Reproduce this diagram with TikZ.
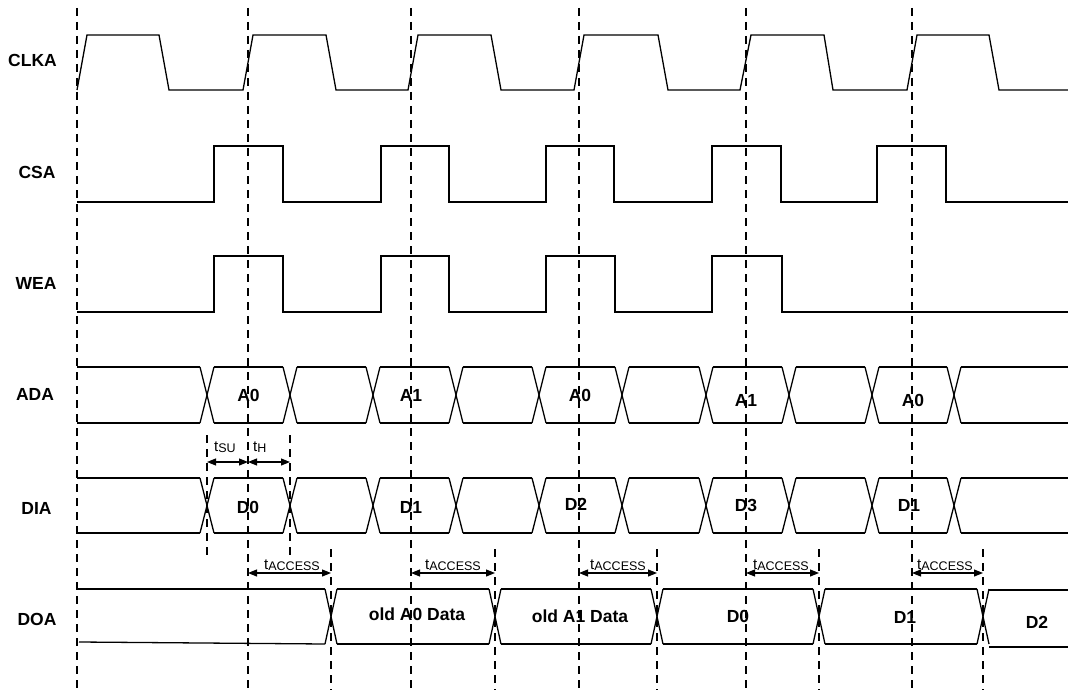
\documentclass[tikz,border=0pt]{standalone}
\usepackage{fontspec}
\setmainfont{Liberation Sans}
\usetikzlibrary{arrows.meta}
\tikzset{
  sig/.style={line width=1.3pt, black},
  grid/.style={line width=1.1pt, dash pattern=on 8pt off 6pt},
  lbl/.style={font=\bfseries\fontsize{17.5}{17.5}\selectfont, inner sep=0pt},
  tlbl/.style={font=\fontsize{15}{15}\selectfont, inner sep=0pt, anchor=base west},
  dim/.style={line width=1.1pt, {Triangle[length=9pt,width=7pt]}-{Triangle[length=9pt,width=7pt]}}
}
\newcommand{\subt}[1]{t{\fontsize{12.5}{12.5}\selectfont\raisebox{-1.5pt}{#1}}}
\begin{document}
\begin{tikzpicture}[x=1pt,y=-1pt]
\useasboundingbox (0,0) rectangle (1068,690);
% main dashed grid lines
\foreach \x in {77,248,411,579,746,912} \draw[grid] (\x,8) -- (\x,690);
% tSU / tH dashed lines
\foreach \x in {207,290} \draw[grid] (\x,435) -- (\x,556);
% tACCESS dashed lines
\foreach \x in {331,495,657,819,983} \draw[grid] (\x,549) -- (\x,690);

% signal labels
\node[lbl] (lclk) at (32.5,60) {CLKA};
\node[lbl] (lcsa) at (37,172) {CSA};
\node[lbl] (lwea) at (36,283) {WEA};
\node[lbl] (lada) at (35,394) {ADA};
\node[lbl] (ldia) at (36.5,508) {DIA};
\node[lbl] (ldoa) at (37,619) {DOA};

% CLKA
\draw[sig] (77,90)--(87,35)--(159,35)--(169,90)--(243,90)--(253,35)--(326,35)--(336,90)--(408,90)--(418,35)--(491,35)--(501,90)--(574,90)--(584,35)--(658,35)--(668,90)--(740,90)--(751,35)--(824,35)--(833,90)--(907,90)--(917,35)--(989,35)--(999,90)--(1068,90);
% CSA
\draw[sig] (77,202)--(214,202)--(214,146)--(283,146)--(283,202)--(381,202)--(381,146)--(449,146)--(449,202)--(546,202)--(546,146)--(614,146)--(614,202)--(712,202)--(712,146)--(781,146)--(781,202)--(877,202)--(877,146)--(946,146)--(946,202)--(1068,202);
% WEA
\draw[sig] (77,312)--(214,312)--(214,256)--(283,256)--(283,312)--(381,312)--(381,256)--(449,256)--(449,312)--(546,312)--(546,256)--(615,256)--(615,312)--(712,312)--(712,256)--(782,256)--(782,312)--(1068,312);

% ADA and DIA buses
\foreach \t/\b in {367/423,478/533}{
  \foreach \c in {207,290,373,456,539,622,706,789,872,954}{
    \draw[sig] (\c-7,\t)--(\c+7,\b);
    \draw[sig] (\c-7,\b)--(\c+7,\t);
  }
  \foreach \a/\e in {77/200,214/283,297/366,380/449,463/532,546/615,629/699,713/782,796/865,879/947,961/1068}{
    \draw[sig] (\a,\t)--(\e,\t);
    \draw[sig] (\a,\b)--(\e,\b);
  }
}
% ADA labels
\node[lbl] (a0) at (248.5,395) {A0};
\node[lbl] (a1) at (411,395) {A1};
\node[lbl] (a2) at (580,395) {A0};
\node[lbl] (a3) at (746,400) {A1};
\node[lbl] (a4) at (913,400) {A0};
% DIA labels
\node[lbl] (d0) at (248,507) {D0};
\node[lbl] (d1) at (411,507) {D1};
\node[lbl] (d2) at (576,504) {D2};
\node[lbl] (d3) at (746,505) {D3};
\node[lbl] (d4) at (909,505) {D1};

% DOA bus
\foreach \c in {331,495,657,819,983}{
  \draw[sig] (\c-6,589)--(\c+6,644);
  \draw[sig] (\c-6,644)--(\c+6,589);
}
\draw[sig] (77,589)--(325,589);
\draw[sig] (79,642)--(325,644);
\foreach \a/\e in {337/489,501/651,663/813,825/977}{
  \draw[sig] (\a,589)--(\e,589);
  \draw[sig] (\a,644)--(\e,644);
}
\draw[sig] (989,590)--(1068,590);
\draw[sig] (989,647)--(1068,647);
% DOA labels
\node[lbl] (o0) at (417,614) {old A0 Data};
\node[lbl] (o1) at (580,616) {old A1 Data};
\node[lbl] (o2) at (738,616) {D0};
\node[lbl] (o3) at (905,617) {D1};
\node[lbl] (o4) at (1037,622) {D2};

% setup / hold
\coordinate (su0) at (207,462);
\coordinate (su1) at (248,462);
\coordinate (h1) at (290,462);
\draw[dim] (su0) -- (su1);
\draw[dim] (su1) -- (h1);
\node[tlbl] (tsu) at (214,451) {\subt{SU}};
\node[tlbl] (th) at (253,451) {\subt{H}};

% access times
\foreach \s/\e/\lx [count=\i] in {248/331/264,411/495/425,579/657/590,746/819/753,912/983/917}{
  \coordinate (as\i) at (\s,573);
  \coordinate (ae\i) at (\e,573);
  \draw[dim] (as\i) -- (ae\i);
  \node[tlbl] (ta\i) at (\lx,569) {\subt{ACCESS}};
}
\end{tikzpicture}
\end{document}
